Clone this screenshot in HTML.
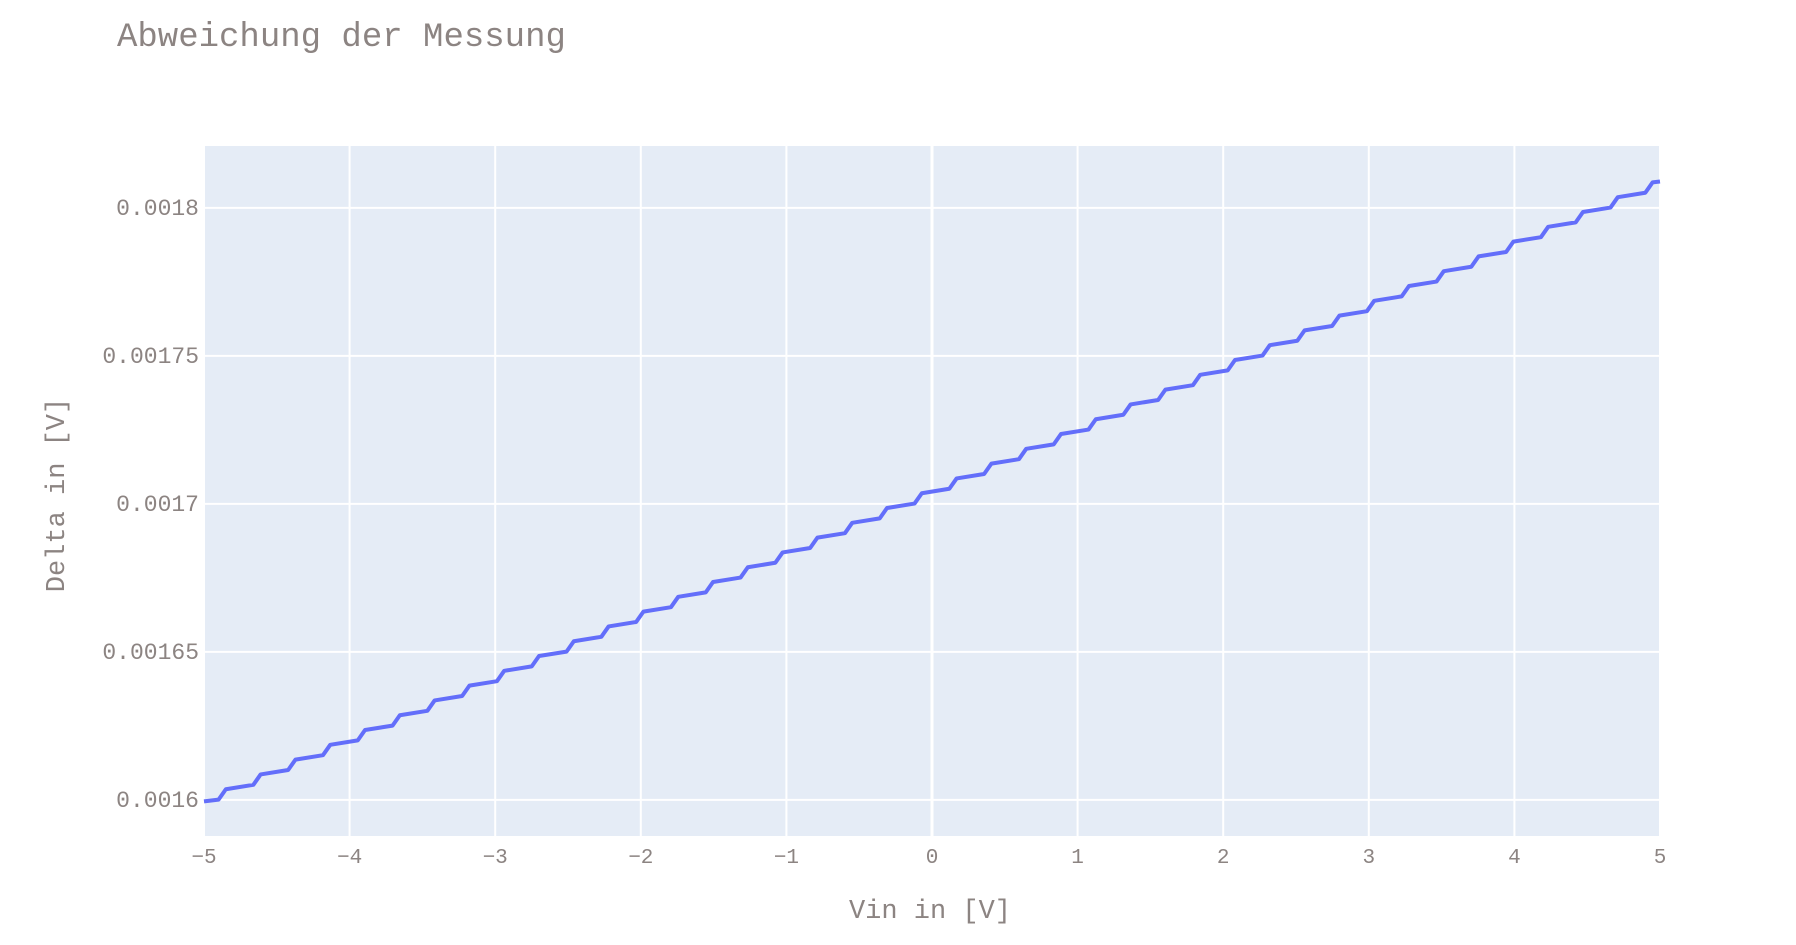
<!DOCTYPE html>
<html><head><meta charset="utf-8"><style>
body{margin:0;background:#fff;}
svg{display:block;font-family:"Liberation Mono",monospace;}
</style></head><body>
<svg id="chart" width="1796" height="945" viewBox="0 0 1796 945">
<text x="117" y="46" font-size="34" fill="#8c8482">Abweichung der Messung</text>
<rect x="204" y="146" width="1456" height="690" fill="#e5ecf6"/>
<g id="grid"></g>
<g id="ticks"></g>
<path id="line" fill="none" stroke="#636efa" stroke-width="4" stroke-linejoin="round"/>
<text x="930" y="918" font-size="27" fill="#8c8482" text-anchor="middle">Vin in [V]</text>
<text transform="translate(64,495) rotate(-90)" font-size="27" fill="#8c8482" text-anchor="middle">Delta in [V]</text>
</svg>
<script>
const xTicks=[-5,-4,-3,-2,-1,0,1,2,3,4,5];
const xTickLabels=["\u22125","\u22124","\u22123","\u22122","\u22121","0","1","2","3","4","5"];
const yTicks=[0.0016,0.00165,0.0017,0.00175,0.0018];
const yTickLabels=["0.0016","0.00165","0.0017","0.00175","0.0018"];
const xVals=[-5,-4.900,-4.850,-4.661,-4.611,-4.422,-4.372,-4.183,-4.133,-3.944,-3.894,-3.705,-3.655,-3.466,-3.416,-3.227,-3.177,-2.988,-2.938,-2.749,-2.699,-2.510,-2.460,-2.271,-2.221,-2.032,-1.982,-1.793,-1.743,-1.554,-1.504,-1.315,-1.265,-1.076,-1.026,-0.837,-0.787,-0.598,-0.548,-0.359,-0.309,-0.120,-0.070,0.119,0.169,0.358,0.408,0.597,0.647,0.836,0.886,1.075,1.125,1.314,1.364,1.553,1.603,1.792,1.842,2.031,2.081,2.270,2.320,2.509,2.559,2.748,2.798,2.987,3.037,3.226,3.276,3.465,3.515,3.704,3.754,3.943,3.993,4.182,4.232,4.421,4.471,4.660,4.710,4.899,4.949,5];
const yValsMicro=[1599.5,1600.1,1603.6,1605.1,1608.6,1610.1,1613.6,1615.1,1618.6,1620.1,1623.6,1625.1,1628.6,1630.1,1633.6,1635.1,1638.6,1640.1,1643.6,1645.1,1648.6,1650.1,1653.6,1655.1,1658.6,1660.1,1663.6,1665.1,1668.6,1670.1,1673.6,1675.1,1678.6,1680.1,1683.6,1685.1,1688.6,1690.1,1693.6,1695.1,1698.6,1700.1,1703.6,1705.1,1708.6,1710.1,1713.6,1715.1,1718.6,1720.1,1723.6,1725.1,1728.6,1730.1,1733.6,1735.1,1738.6,1740.1,1743.6,1745.1,1748.6,1750.1,1753.6,1755.1,1758.6,1760.1,1763.6,1765.1,1768.6,1770.1,1773.6,1775.1,1778.6,1780.1,1783.6,1785.1,1788.6,1790.1,1793.6,1795.1,1798.6,1800.1,1803.6,1805.1,1808.6,1808.9];
const X0=204,X1=1660,Y0=146,Y1=836;
const xMin=-5,xMax=5,yMin=0.0015878,yMax=0.0018209;
function sx(v){return X0+(v-xMin)/(xMax-xMin)*(X1-X0);}
function sy(v){return Y1-(v-yMin)/(yMax-yMin)*(Y1-Y0);}
const NS="http://www.w3.org/2000/svg";
const grid=document.getElementById('grid'),ticks=document.getElementById('ticks');
xTicks.forEach((t,i)=>{
  const l=document.createElementNS(NS,'line');
  
  
  l.setAttribute('x1',sx(t));l.setAttribute('x2',sx(t));l.setAttribute('y1',Y0);l.setAttribute('y2',Y1);
  l.setAttribute('stroke','#fff');l.setAttribute('stroke-width',(t===0)?3:2);
  grid.appendChild(l);
  const tx=document.createElementNS(NS,'text');
  
  
  tx.setAttribute('x',sx(t));tx.setAttribute('y',863);tx.setAttribute('font-size','21');
  tx.setAttribute('fill','#8c8482');tx.setAttribute('text-anchor','middle');
  tx.textContent=xTickLabels[i];ticks.appendChild(tx);
});
yTicks.forEach((t,i)=>{
  const l=document.createElementNS(NS,'line');
  
  
  l.setAttribute('x1',X0);l.setAttribute('x2',X1);l.setAttribute('y1',sy(t));l.setAttribute('y2',sy(t));
  l.setAttribute('stroke','#fff');l.setAttribute('stroke-width',2);
  grid.appendChild(l);
  const tx=document.createElementNS(NS,'text');
  
  
  tx.setAttribute('x',199);tx.setAttribute('y',sy(t)+7);tx.setAttribute('font-size','23');
  tx.setAttribute('fill','#8c8482');tx.setAttribute('text-anchor','end');
  tx.textContent=yTickLabels[i];ticks.appendChild(tx);
});
let d='';
xVals.forEach((x,i)=>{d+=(i?'L':'M')+sx(x).toFixed(2)+','+sy(yValsMicro[i]*1e-6).toFixed(2);});
document.getElementById('line').setAttribute('d',d);
</script>
</body></html>
